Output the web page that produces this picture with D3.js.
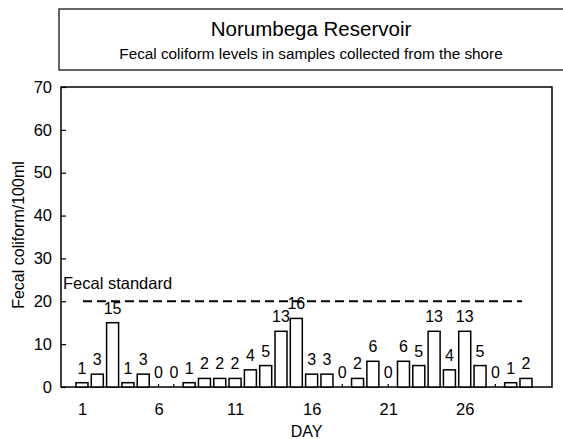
<!DOCTYPE html>
<html>
<head>
<meta charset="utf-8">
<script src="https://cdn.jsdelivr.net/npm/d3@7"></script>
<style>
  body { margin: 0; background: #fff; }
  svg { font-family: "Liberation Sans", Arial, sans-serif; }
</style>
</head>
<body>
<div id="chart"></div>
<script>
var days = d3.range(1, 31);
var counts = [1, 3, 15, 1, 3, 0, 0, 1, 2, 2, 2, 4, 5, 13, 16, 3, 3, 0, 2, 6, 0, 6, 5, 13, 4, 13, 5, 0, 1, 2];
var dayTicks = [1, 6, 11, 16, 21, 26];
var yTicks = [0, 10, 20, 30, 40, 50, 60, 70];
var fecalStandard = 20;

var data = days.map(function(d, i) { return {day: d, value: counts[i]}; });

var W = 563, H = 439;
var plot = {left: 61, right: 552, top: 87, bottom: 387};

var svg = d3.select("#chart").append("svg")
    .attr("width", W)
    .attr("height", H);

// title box
svg.append("rect")
    .attr("x", 59).attr("y", 9)
    .attr("width", 520).attr("height", 61)
    .attr("fill", "none").attr("stroke", "#000").attr("stroke-width", 1.2);

svg.append("text")
    .attr("x", 311).attr("y", 36)
    .attr("text-anchor", "middle")
    .style("font-size", "20.5px")
    .text("Norumbega Reservoir");

svg.append("text")
    .attr("x", 311).attr("y", 59)
    .attr("text-anchor", "middle")
    .style("font-size", "15.3px")
    .text("Fecal coliform levels in samples collected from the shore");

var x = d3.scaleLinear()
    .domain([-0.37, 31.7])
    .range([plot.left, plot.right]);

var y = d3.scaleLinear()
    .domain([0, 70])
    .range([plot.bottom, plot.top]);

var barW = 12;

// plot frame
svg.append("rect")
    .attr("x", plot.left).attr("y", plot.top)
    .attr("width", plot.right - plot.left)
    .attr("height", plot.bottom - plot.top)
    .attr("fill", "none").attr("stroke", "#000").attr("stroke-width", 1.5);

// y axis
var yAxis = svg.append("g")
    .attr("transform", "translate(" + plot.left + ",0)")
    .call(d3.axisLeft(y).tickValues(yTicks).tickSize(-5).tickPadding(9));
yAxis.select(".domain").remove();
yAxis.selectAll("line").attr("stroke-width", 1.2);
yAxis.selectAll("text")
    .style("font-size", "16.5px")
    .style("font-family", "'Liberation Sans', Arial, sans-serif")
    .attr("fill", "#000");

// x axis
var xAxis = svg.append("g")
    .attr("transform", "translate(0," + plot.bottom + ")")
    .call(d3.axisBottom(x).tickValues(dayTicks).tickSize(0).tickPadding(16).tickFormat(d3.format("d")));
xAxis.select(".domain").remove();
xAxis.selectAll("text")
    .style("font-size", "16.5px")
    .style("font-family", "'Liberation Sans', Arial, sans-serif")
    .attr("fill", "#000");

// axis titles
svg.append("text")
    .attr("x", (plot.left + plot.right) / 2)
    .attr("y", 437)
    .attr("text-anchor", "middle")
    .style("font-size", "16px")
    .text("DAY");

svg.append("text")
    .attr("transform", "translate(24," + ((plot.top + plot.bottom) / 2 - 2) + ") rotate(-90)")
    .attr("text-anchor", "middle")
    .style("font-size", "16px")
    .text("Fecal coliform/100ml");

// bars
svg.selectAll(".bar")
    .data(data)
    .enter().append("rect")
    .attr("class", "bar")
    .attr("x", function(d) { return x(d.day) - barW / 2; })
    .attr("y", function(d) { return y(d.value); })
    .attr("width", barW)
    .attr("height", function(d) { return y(0) - y(d.value); })
    .attr("fill", "#fff")
    .attr("stroke", "#000")
    .attr("stroke-width", 1.5);

// zero markers
svg.selectAll(".zero")
    .data(data.filter(function(d) { return d.value === 0; }))
    .enter().append("line")
    .attr("x1", function(d) { return x(d.day); })
    .attr("x2", function(d) { return x(d.day); })
    .attr("y1", y(0) - 3)
    .attr("y2", y(0))
    .attr("stroke", "#000")
    .attr("stroke-width", 1.2);

// value labels
svg.selectAll(".lbl")
    .data(data)
    .enter().append("text")
    .attr("class", "lbl")
    .attr("x", function(d) { return x(d.day); })
    .attr("y", function(d) { return y(d.value) - 9; })
    .attr("text-anchor", "middle")
    .style("font-size", "16px")
    .text(function(d) { return d.value; });

// fecal standard line
svg.append("line")
    .attr("x1", x(1) + 1)
    .attr("x2", x(30) - 4)
    .attr("y1", y(fecalStandard))
    .attr("y2", y(fecalStandard))
    .attr("stroke", "#000")
    .attr("stroke-width", 2)
    .attr("stroke-dasharray", "9,5");

svg.append("text")
    .attr("x", plot.left + 2)
    .attr("y", y(fecalStandard) - 12)
    .style("font-size", "16.5px")
    .text("Fecal standard");
</script>
</body>
</html>
